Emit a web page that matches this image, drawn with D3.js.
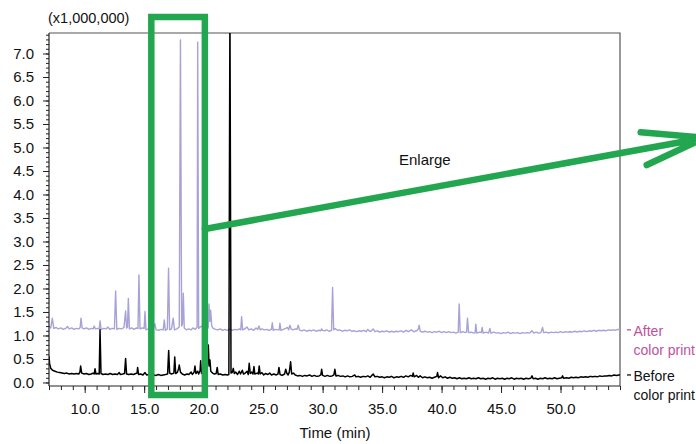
<!DOCTYPE html>
<html>
<head>
<meta charset="utf-8">
<script src="https://cdn.jsdelivr.net/npm/d3@7"></script>
<style>
  html, body { margin: 0; padding: 0; background: #fff; }
  svg { display: block; font-family: "Liberation Sans", Arial, Helvetica, sans-serif; }
</style>
</head>
<body>
<svg id="chart" width="696" height="444"></svg>
<script>
// ---------- data ----------
const xDomain = [7, 55];
const yDomain = [-0.075, 7.436];
const xMajorTicks = [10, 15, 20, 25, 30, 35, 40, 45, 50];
const xMinorTicks = d3.range(7, 56, 1);
const yMajorTicks = [0, 0.5, 1, 1.5, 2, 2.5, 3, 3.5, 4, 4.5, 5, 5.5, 6, 6.5, 7];
const yMinorTicks = d3.range(0, 75, 1).map(d => d / 10);
const yUnitLabel = "(x1,000,000)";
const xTitle = "Time (min)";
const seriesNames = [["After", "color print"], ["Before", "color print"]];
const calloutText = "Enlarge";
const zoomWindow = [15.6, 20.1]; // minutes, the region boxed in green

// [time (min), intensity (x1,000,000)]
const afterColorPrint = [
[7.00,1.20],[7.15,1.16],[7.28,1.37],[7.40,1.15],[7.6,1.17],[7.8,1.14],[8.0,1.16],[8.2,1.13],[8.4,1.15],[8.55,1.19],
[8.7,1.14],[8.9,1.16],[9.1,1.13],[9.3,1.15],[9.5,1.14],[9.62,1.17],[9.69,1.37],[9.78,1.16],[9.95,1.14],[10.15,1.16],
[10.35,1.13],[10.55,1.15],[10.72,1.14],[10.80,1.20],[10.9,1.14],[11.1,1.15],[11.22,1.14],[11.29,1.31],[11.38,1.13],[11.6,1.15],
[11.8,1.14],[11.95,1.18],[12.1,1.13],[12.3,1.15],[12.5,1.14],[12.6,1.95],[12.7,1.13],[12.9,1.15],[13.1,1.14],[13.3,1.17],
[13.44,1.52],[13.52,1.16],[13.6,1.18],[13.67,1.79],[13.76,1.14],[13.95,1.16],[14.15,1.13],[14.35,1.16],[14.48,1.15],[14.56,2.29],
[14.65,1.14],[14.85,1.16],[15.0,1.15],[15.07,1.51],[15.15,1.12],[15.35,1.14],[15.55,1.11],[15.75,1.13],[15.9,1.25],[16.0,1.12],
[16.2,1.11],[16.4,1.13],[16.6,1.12],[16.69,1.33],[16.78,1.11],[16.95,1.14],[17.05,2.43],[17.14,1.12],[17.3,1.14],[17.44,1.37],
[17.55,1.12],[17.75,1.14],[17.95,1.18],[18.05,7.29],[18.15,1.20],[18.22,1.25],[18.29,1.90],[18.37,1.16],[18.55,1.12],[18.75,1.14],
[18.95,1.12],[19.1,1.16],[19.3,1.13],[19.45,1.18],[19.50,7.24],[19.58,1.15],[19.7,1.18],[19.85,1.20],[20.0,1.13],[20.2,1.14],
[20.38,1.16],[20.45,1.67],[20.52,1.30],[20.59,1.54],[20.68,1.20],[20.8,1.15],[21.0,1.13],[21.2,1.12],[21.4,1.14],[21.6,1.11],
[21.8,1.13],[22.0,1.11],[22.2,1.14],[22.4,1.11],[22.6,1.13],[22.8,1.12],[23.0,1.14],[23.12,1.12],[23.19,1.40],[23.28,1.12],
[23.45,1.14],[23.65,1.18],[23.8,1.12],[24.0,1.14],[24.2,1.11],[24.4,1.16],[24.55,1.13],[24.65,1.20],[24.75,1.12],[24.9,1.14],
[25.1,1.12],[25.3,1.13],[25.5,1.11],[25.7,1.13],[25.77,1.27],[25.85,1.11],[26.0,1.13],[26.2,1.12],[26.35,1.12],[26.41,1.26],
[26.5,1.11],[26.7,1.13],[26.9,1.15],[27.05,1.17],[27.15,1.12],[27.25,1.22],[27.35,1.14],[27.5,1.12],[27.7,1.14],[27.85,1.13],
[27.95,1.22],[28.05,1.12],[28.25,1.10],[28.45,1.12],[28.65,1.09],[28.85,1.11],[29.05,1.10],[29.25,1.12],[29.45,1.09],[29.65,1.11],
[29.85,1.10],[29.92,1.14],[30.0,1.11],[30.15,1.10],[30.35,1.12],[30.55,1.09],[30.75,1.11],[30.84,2.02],[30.93,1.12],[31.05,1.15],
[31.25,1.11],[31.45,1.12],[31.65,1.09],[31.85,1.11],[32.05,1.10],[32.25,1.12],[32.45,1.09],[32.65,1.10],[32.85,1.08],[33.05,1.10],
[33.25,1.09],[33.45,1.11],[33.65,1.08],[33.8,1.13],[33.95,1.09],[34.05,1.09],[34.25,1.14],[34.4,1.08],[34.6,1.10],[34.8,1.07],
[35.0,1.09],[35.2,1.08],[35.4,1.10],[35.6,1.07],[35.8,1.09],[36.0,1.07],[36.2,1.09],[36.4,1.08],[36.6,1.10],[36.8,1.07],
[37.0,1.11],[37.2,1.08],[37.48,1.12],[37.65,1.08],[37.9,1.10],[38.05,1.14],[38.12,1.22],[38.2,1.09],[38.4,1.07],[38.6,1.09],
[38.8,1.07],[39.0,1.08],[39.2,1.06],[39.4,1.08],[39.6,1.07],[39.8,1.09],[40.0,1.06],[40.2,1.08],[40.4,1.06],[40.6,1.08],
[40.8,1.06],[41.0,1.07],[41.2,1.05],[41.4,1.07],[41.48,1.67],[41.57,1.06],[41.8,1.08],[42.0,1.06],[42.1,1.07],[42.18,1.37],
[42.27,1.06],[42.5,1.07],[42.7,1.05],[42.82,1.06],[42.88,1.24],[42.96,1.05],[43.2,1.07],[43.35,1.06],[43.41,1.17],[43.5,1.05],
[43.75,1.07],[43.95,1.05],[44.06,1.15],[44.15,1.05],[44.4,1.07],[44.6,1.05],[44.8,1.06],[45.0,1.04],[45.2,1.06],[45.4,1.05],
[45.6,1.07],[45.8,1.04],[46.0,1.06],[46.2,1.05],[46.4,1.06],[46.6,1.04],[46.8,1.06],[47.0,1.05],[47.2,1.06],[47.4,1.05],
[47.6,1.10],[47.75,1.05],[47.95,1.07],[48.15,1.05],[48.35,1.06],[48.49,1.17],[48.58,1.06],[48.8,1.07],[49.0,1.05],[49.2,1.07],
[49.4,1.06],[49.6,1.07],[49.8,1.06],[50.0,1.08],[50.2,1.06],[50.4,1.08],[50.6,1.07],[50.8,1.08],[51.0,1.07],[51.2,1.09],
[51.4,1.07],[51.6,1.09],[51.8,1.08],[52.0,1.10],[52.2,1.08],[52.4,1.10],[52.6,1.09],[52.8,1.11],[53.0,1.09],[53.2,1.11],
[53.4,1.10],[53.6,1.11],[53.8,1.10],[54.0,1.12],[54.2,1.11],[54.4,1.12],[54.6,1.11],[54.8,1.13],[55.0,1.12]
];

const beforeColorPrint = [
[7.00,0.56],[7.05,0.40],[7.15,0.30],[7.3,0.26],[7.5,0.24],[7.7,0.22],[7.9,0.21],[8.1,0.20],[8.3,0.19],[8.5,0.20],
[8.7,0.18],[8.9,0.19],[9.1,0.18],[9.3,0.19],[9.5,0.18],[9.6,0.22],[9.66,0.35],[9.75,0.20],[9.95,0.18],[10.15,0.19],
[10.35,0.17],[10.55,0.18],[10.7,0.20],[10.8,0.18],[10.87,0.29],[10.95,0.18],[11.1,0.19],[11.22,0.18],[11.29,1.12],[11.37,0.19],
[11.55,0.17],[11.75,0.18],[11.95,0.17],[12.15,0.19],[12.35,0.17],[12.55,0.18],[12.75,0.17],[12.9,0.21],[13.0,0.17],[13.2,0.18],
[13.35,0.19],[13.44,0.51],[13.52,0.18],[13.7,0.17],[13.9,0.18],[14.1,0.17],[14.3,0.19],[14.4,0.20],[14.45,0.32],[14.53,0.17],
[14.7,0.18],[14.9,0.16],[15.07,0.21],[15.2,0.16],[15.4,0.17],[15.6,0.15],[15.8,0.16],[16.0,0.15],[16.2,0.17],[16.4,0.15],
[16.6,0.16],[16.8,0.17],[16.97,0.18],[17.06,0.68],[17.14,0.20],[17.3,0.18],[17.5,0.20],[17.57,0.54],[17.65,0.19],[17.8,0.22],
[17.9,0.30],[17.95,0.37],[18.05,0.22],[18.2,0.18],[18.4,0.16],[18.6,0.18],[18.75,0.17],[18.95,0.22],[19.05,0.17],[19.2,0.22],
[19.27,0.35],[19.35,0.19],[19.5,0.24],[19.58,0.18],[19.7,0.25],[19.75,0.46],[19.82,0.20],[19.95,0.17],[20.1,0.19],[20.2,0.22],
[20.3,0.30],[20.39,0.80],[20.46,0.35],[20.53,0.48],[20.6,0.24],[20.75,0.20],[20.9,0.18],[21.05,0.19],[21.14,0.32],[21.22,0.17],
[21.4,0.18],[21.6,0.16],[21.8,0.17],[22.0,0.16],[22.12,0.17],[22.21,8.0],[22.30,0.20],[22.4,0.21],[22.49,0.30],[22.58,0.19],
[22.7,0.22],[22.85,0.17],[23.0,0.24],[23.1,0.18],[23.25,0.26],[23.35,0.18],[23.5,0.20],[23.65,0.24],[23.75,0.17],[23.83,0.41],
[23.92,0.19],[24.05,0.22],[24.15,0.18],[24.23,0.34],[24.3,0.18],[24.5,0.20],[24.6,0.18],[24.67,0.35],[24.75,0.18],[24.9,0.21],
[25.05,0.16],[25.2,0.19],[25.4,0.17],[25.55,0.20],[25.7,0.16],[25.9,0.18],[26.1,0.16],[26.25,0.18],[26.33,0.32],[26.42,0.17],
[26.6,0.15],[26.8,0.18],[26.9,0.28],[27.0,0.19],[27.1,0.16],[27.2,0.22],[27.31,0.44],[27.4,0.18],[27.55,0.20],[27.7,0.16],
[27.9,0.14],[28.1,0.15],[28.3,0.13],[28.5,0.15],[28.7,0.14],[28.9,0.16],[29.1,0.13],[29.3,0.15],[29.5,0.13],[29.7,0.14],
[29.85,0.16],[29.92,0.28],[30.0,0.15],[30.2,0.13],[30.4,0.15],[30.6,0.13],[30.8,0.14],[30.95,0.16],[31.03,0.28],[31.12,0.14],
[31.3,0.15],[31.5,0.13],[31.7,0.14],[31.9,0.12],[32.1,0.14],[32.3,0.12],[32.5,0.13],[32.7,0.16],[32.8,0.12],[33.0,0.13],
[33.2,0.11],[33.4,0.13],[33.6,0.12],[33.8,0.14],[34.0,0.11],[34.25,0.18],[34.4,0.12],[34.6,0.13],[34.8,0.11],[35.0,0.12],
[35.2,0.10],[35.4,0.12],[35.6,0.11],[35.8,0.13],[36.0,0.10],[36.2,0.12],[36.4,0.11],[36.6,0.13],[36.8,0.11],[37.0,0.14],
[37.2,0.12],[37.4,0.15],[37.55,0.13],[37.61,0.20],[37.7,0.12],[37.9,0.15],[38.05,0.11],[38.2,0.14],[38.4,0.10],[38.6,0.12],
[38.8,0.10],[39.0,0.11],[39.2,0.09],[39.4,0.11],[39.6,0.13],[39.66,0.21],[39.75,0.10],[39.9,0.14],[40.1,0.10],[40.3,0.12],
[40.5,0.09],[40.7,0.11],[40.9,0.09],[41.1,0.10],[41.3,0.08],[41.5,0.10],[41.7,0.08],[41.9,0.09],[42.1,0.08],[42.3,0.10],
[42.5,0.08],[42.7,0.09],[42.9,0.08],[43.1,0.10],[43.3,0.08],[43.5,0.09],[43.7,0.07],[43.9,0.09],[44.1,0.08],[44.3,0.10],
[44.5,0.07],[44.7,0.09],[44.9,0.08],[45.1,0.09],[45.3,0.07],[45.5,0.09],[45.7,0.08],[45.9,0.10],[46.1,0.07],[46.3,0.09],
[46.5,0.08],[46.7,0.09],[46.9,0.07],[47.1,0.09],[47.3,0.08],[47.5,0.09],[47.6,0.14],[47.7,0.08],[47.9,0.09],[48.1,0.07],
[48.3,0.09],[48.5,0.08],[48.7,0.10],[48.9,0.08],[49.1,0.09],[49.3,0.08],[49.5,0.10],[49.7,0.08],[49.9,0.09],[50.1,0.10],
[50.17,0.14],[50.25,0.09],[50.5,0.10],[50.7,0.09],[50.9,0.11],[51.1,0.10],[51.3,0.11],[51.5,0.10],[51.7,0.12],[51.9,0.11],
[52.1,0.12],[52.3,0.11],[52.5,0.13],[52.7,0.12],[52.9,0.13],[53.1,0.12],[53.3,0.14],[53.5,0.13],[53.7,0.14],[53.9,0.14],
[54.1,0.15],[54.3,0.14],[54.5,0.16],[54.7,0.15],[54.9,0.16],[55.0,0.16]
];

// ---------- layout ----------
const svg = d3.select("#chart");
const plot = { left: 49, right: 620, top: 33, bottom: 386 };
const x = d3.scaleLinear().domain(xDomain).range([plot.left, plot.right]);
const y = d3.scaleLinear().domain(yDomain).range([plot.bottom, plot.top]);
const font = "'Liberation Sans', Arial, Helvetica, sans-serif";

svg.append("defs").append("clipPath").attr("id", "plotClip")
  .append("rect")
  .attr("x", plot.left).attr("y", plot.top)
  .attr("width", plot.right - plot.left).attr("height", plot.bottom - plot.top);

// frame (top + right)
svg.append("path")
  .attr("d", `M${plot.left},${plot.top}H${plot.right}V${plot.bottom}`)
  .attr("fill", "none").attr("stroke", "#555").attr("stroke-width", 1.2);

// series
const line = d3.line().x(d => x(d[0])).y(d => y(d[1]));
const g = svg.append("g").attr("clip-path", "url(#plotClip)");
g.append("path").datum(afterColorPrint)
  .attr("d", line).attr("fill", "none")
  .attr("stroke", "#a8a2d6").attr("stroke-width", 1.4).attr("stroke-linejoin", "round");
g.append("path").datum(beforeColorPrint)
  .attr("d", line).attr("fill", "none")
  .attr("stroke", "#000").attr("stroke-width", 1.5).attr("stroke-linejoin", "round");

// y axis
const yMinor = svg.append("g").attr("transform", `translate(${plot.left},0)`)
  .call(d3.axisLeft(y).tickValues(yMinorTicks).tickSize(3).tickFormat("").tickSizeOuter(0));
yMinor.select(".domain").remove();
yMinor.selectAll("line").attr("stroke", "#222");
const yAx = svg.append("g").attr("transform", `translate(${plot.left},0)`)
  .call(d3.axisLeft(y).tickValues(yMajorTicks).tickSize(6).tickPadding(9)
    .tickFormat(d3.format(".1f")).tickSizeOuter(0));
yAx.select(".domain").attr("d", `M0,${plot.top}V${plot.bottom}`).attr("stroke", "#222").attr("stroke-width", 1.2);
yAx.selectAll("line").attr("stroke", "#222");
yAx.selectAll("text").attr("font-size", 15).attr("font-family", font).attr("fill", "#111");

// x axis
const xMinor = svg.append("g").attr("transform", `translate(0,${plot.bottom})`)
  .call(d3.axisBottom(x).tickValues(xMinorTicks).tickSize(4).tickFormat("").tickSizeOuter(0));
xMinor.select(".domain").remove();
xMinor.selectAll("line").attr("stroke", "#222");
const xAx = svg.append("g").attr("transform", `translate(0,${plot.bottom})`)
  .call(d3.axisBottom(x).tickValues(xMajorTicks).tickSize(7).tickPadding(10)
    .tickFormat(d3.format(".1f")).tickSizeOuter(0));
xAx.select(".domain").attr("d", `M${plot.left},0H${plot.right}`).attr("stroke", "#222").attr("stroke-width", 1.2);
xAx.selectAll("line").attr("stroke", "#222");
xAx.selectAll("text").attr("font-size", 15).attr("font-family", font).attr("fill", "#111");

// labels
svg.append("text").attr("x", 48).attr("y", 23).attr("font-size", 14.5)
  .attr("font-family", font).attr("fill", "#111").text(yUnitLabel);
svg.append("text").attr("x", (plot.left + plot.right) / 2 + 0.5).attr("y", 438)
  .attr("text-anchor", "middle").attr("font-size", 15)
  .attr("font-family", font).attr("fill", "#111").text(xTitle);

// legend at line ends
const lastAfter = afterColorPrint[afterColorPrint.length - 1];
const lastBefore = beforeColorPrint[beforeColorPrint.length - 1];
const legendItems = [
  { y: y(lastAfter[1]), color: "#c0519d", lines: seriesNames[0] },
  { y: y(lastBefore[1]), color: "#111", lines: seriesNames[1] }
];
legendItems.forEach(it => {
  svg.append("line").attr("x1", plot.right + 7).attr("x2", plot.right + 11)
    .attr("y1", it.y).attr("y2", it.y).attr("stroke", it.color).attr("stroke-width", 1.3);
  it.lines.forEach((t, i) => {
    svg.append("text").attr("x", plot.right + 13.5).attr("y", it.y + 6 + i * 19.5)
      .attr("font-size", 14).attr("font-family", font).attr("fill", it.color).text(t);
  });
});

// green callout box + arrow
const green = "#22a750";
const bx0 = x(zoomWindow[0]), bx1 = x(zoomWindow[1]);
svg.append("rect")
  .attr("x", bx0).attr("y", 17).attr("width", bx1 - bx0).attr("height", 378)
  .attr("fill", "none").attr("stroke", green).attr("stroke-width", 6.5);
const tip = [705, 137.7];
svg.append("path")
  .attr("d", `M${bx1},229L${tip[0]},${tip[1]}M640.7,132.3L${tip[0]},${tip[1]}L646.7,165`)
  .attr("fill", "none").attr("stroke", green).attr("stroke-width", 6.5)
  .attr("stroke-linecap", "round").attr("stroke-linejoin", "round");
svg.append("text").attr("x", 399).attr("y", 165).attr("font-size", 15)
  .attr("font-family", font).attr("fill", "#111").text(calloutText);
</script>
</body>
</html>
